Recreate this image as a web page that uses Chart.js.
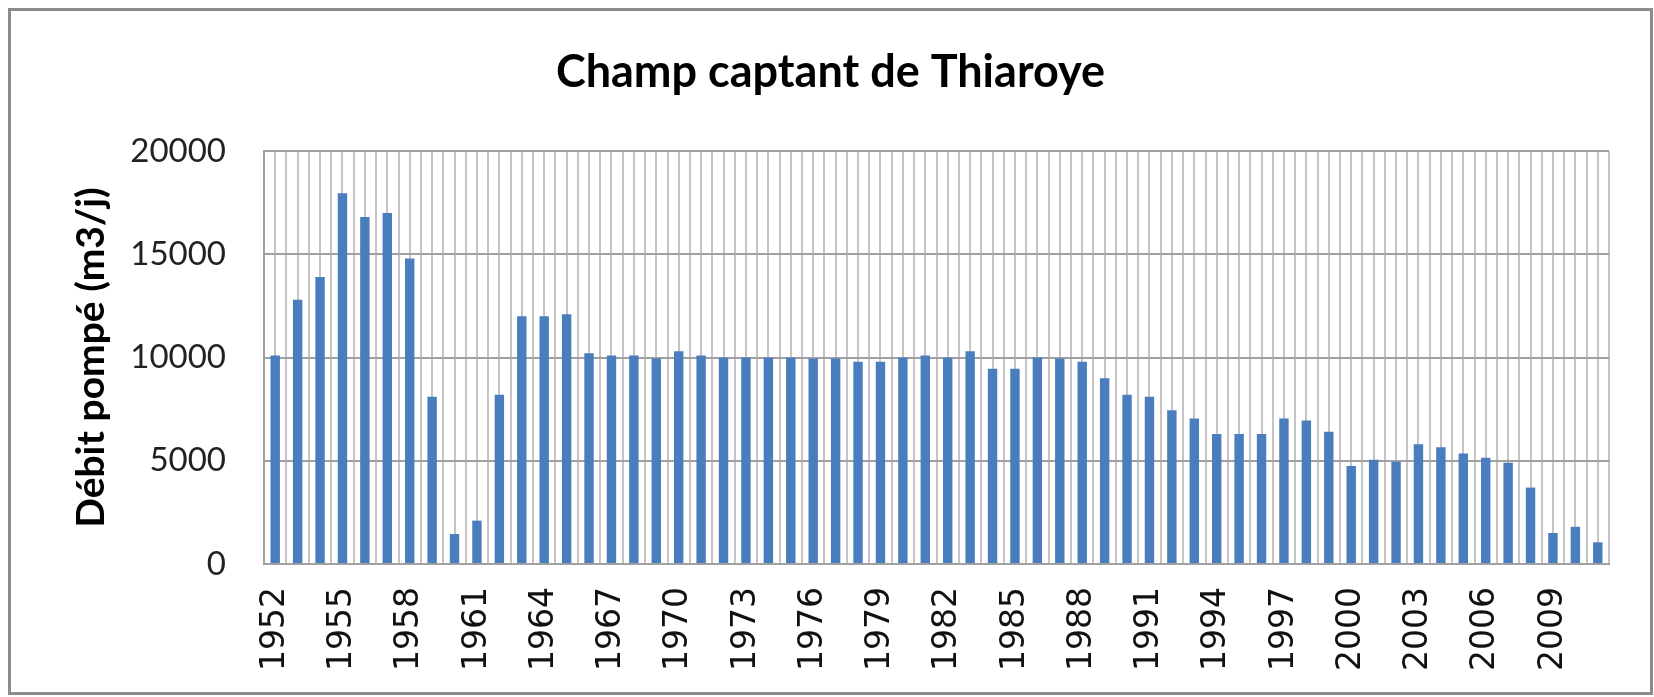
<!DOCTYPE html>
<html>
<head>
<meta charset="utf-8">
<script src="https://cdn.jsdelivr.net/npm/chart.js"></script>
<style>
    html, body { margin: 0; padding: 0; background: #fff; }
    #frame {
        position: absolute; left: 8px; top: 8px;
        width: 1645px; height: 687px;
        box-sizing: border-box; border: 3px solid #8c8c8c;
    }
    #myChart { display: block; }
</style>
</head>
<body>
<div id="frame"><canvas id="myChart" width="1639" height="681"></canvas></div>
<script>
const years = ['1952', '1953', '1954', '1955', '1956', '1957', '1958', '1959', '1960', '1961',
    '1962', '1963', '1964', '1965', '1966', '1967', '1968', '1969', '1970', '1971',
    '1972', '1973', '1974', '1975', '1976', '1977', '1978', '1979', '1980', '1981',
    '1982', '1983', '1984', '1985', '1986', '1987', '1988', '1989', '1990', '1991',
    '1992', '1993', '1994', '1995', '1996', '1997', '1998', '1999', '2000', '2001',
    '2002', '2003', '2004', '2005', '2006', '2007', '2008', '2009', '2010', '2011'];

const debitPompe = [10100, 12800, 13900, 17950, 16800, 17000, 14800, 8100, 1450, 2100,
    8200, 12000, 12000, 12100, 10200, 10100, 10100, 9950, 10300, 10100,
    10000, 10000, 10000, 10000, 9950, 9950, 9800, 9800, 10000, 10100,
    10000, 10300, 9450, 9450, 10000, 9950, 9800, 9000, 8200, 8100,
    7450, 7050, 6300, 6300, 6300, 7050, 6950, 6400, 4750, 5050,
    4950, 5800, 5650, 5350, 5150, 4900, 3700, 1500, 1800, 1050];

const shownYears = ['1952', '1955', '1958', '1961', '1964', '1967', '1970', '1973', '1976', '1979',
    '1982', '1985', '1988', '1991', '1994', '1997', '2000', '2003', '2006', '2009'];

const yTicks = [0, 5000, 10000, 15000, 20000];

const ctx = document.getElementById('myChart');

new Chart(ctx, {
    type: 'bar',
    data: {
        labels: years,
        datasets: [{
            label: 'Débit pompé (m3/j)',
            data: debitPompe,
            backgroundColor: '#4a7dbd',
            borderWidth: 0,
            categoryPercentage: 1,
            barPercentage: 0.42
        }]
    },
    options: {
        responsive: false,
        animation: false,
        layout: { padding: 0 },
        plugins: {
            legend: { display: false },
            tooltip: { enabled: false },
            title: {
                display: true,
                text: 'Champ captant de Thiaroye',
                color: '#000',
                font: { family: 'Lato', size: 45, weight: 'bold' },
                padding: { top: 34, bottom: 52 }
            }
        },
        scales: {
            x: {
                grid: { offset: true, color: '#c4c4c4', lineWidth: 2, drawTicks: false },
                border: { color: '#a0a0a0', width: 2 },
                ticks: {
                    autoSkip: false,
                    minRotation: 90,
                    maxRotation: 90,
                    padding: 23,
                    color: '#111',
                    font: { family: "'DejaVu Sans'", size: 33 },
                    callback: function (value) {
                        const y = this.getLabelForValue(value);
                        return shownYears.includes(y) ? y : '';
                    }
                },
                afterFit: function (scale) {
                    scale.height = 128;
                    scale.paddingLeft = 0;
                    scale.paddingRight = 0;
                }
            },
            xCenter: {
                type: 'category',
                position: 'bottom',
                labels: years,
                grid: { offset: false, color: '#c4c4c4', lineWidth: 2, drawTicks: false },
                border: { display: false },
                ticks: { display: false },
                afterFit: function (scale) {
                    scale.height = 0;
                    scale.paddingLeft = 0;
                    scale.paddingRight = 0;
                }
            },
            y: {
                min: 0,
                max: 20000,
                afterBuildTicks: function (scale) {
                    scale.ticks = yTicks.map(v => ({ value: v }));
                },
                grid: { color: '#a0a0a0', lineWidth: 2, drawTicks: false },
                border: { color: '#a0a0a0', width: 2 },
                ticks: {
                    padding: 38,
                    color: '#222',
                    font: { family: 'Lato', size: 33 },
                    callback: function (value) { return String(value); }
                },
                title: {
                    display: true,
                    text: 'Débit pompé (m3/j)',
                    color: '#000',
                    font: { family: 'Lato', size: 39, weight: 'bold' },
                    padding: { top: 57, bottom: 0 }
                },
                afterFit: function (scale) { scale.width = 253; }
            },
            // empty right margin so the title stays centred on the whole frame
            yRight: {
                type: 'linear',
                position: 'right',
                grid: { display: false, drawTicks: false },
                border: { display: false },
                ticks: { display: false },
                afterFit: function (scale) { scale.width = 41; }
            }
        }
    }
});
</script>
</body>
</html>
